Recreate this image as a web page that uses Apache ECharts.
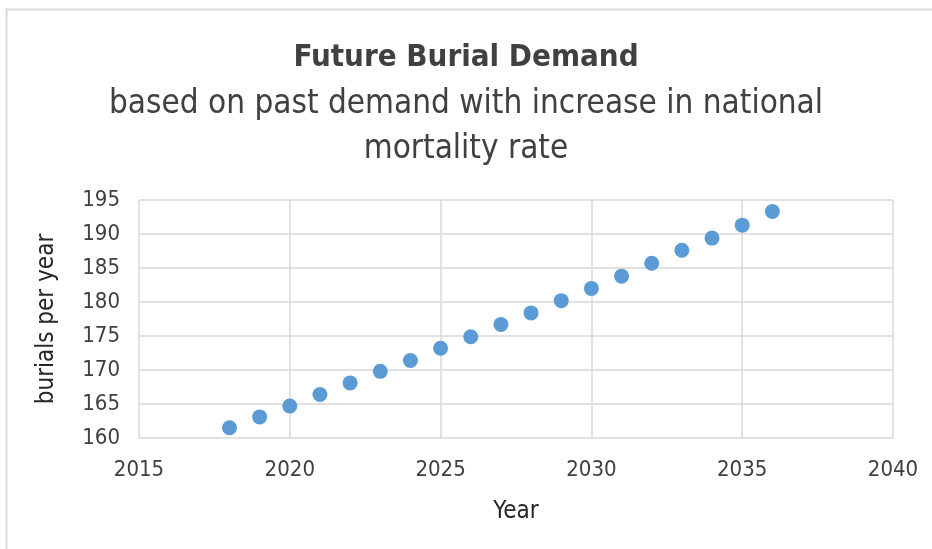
<!DOCTYPE html>
<html><head><meta charset="utf-8">
<script src="https://cdn.jsdelivr.net/npm/echarts@6/dist/echarts.min.js"></script>
<style>html,body{margin:0;padding:0;background:#fff}#c{width:932px;height:549px}</style>
</head><body><div id="c"></div>
<script>
const years = [2018,2019,2020,2021,2022,2023,2024,2025,2026,2027,2028,2029,2030,2031,2032,2033,2034,2035,2036];
const burials = [161.5,163.1,164.7,166.4,168.1,169.8,171.4,173.2,174.9,176.7,178.4,180.2,182.0,183.8,185.7,187.6,189.4,191.3,193.3];
const titleText = 'Future Burial Demand';
const subtitleText = 'based on past demand with increase in national\nmortality rate';
const xName = 'Year';
const yName = 'burials per year';
const FONT = '"Liberation Sans Narrow","DejaVu Sans Condensed","Open Sans",sans-serif';
const chart = echarts.init(document.getElementById('c'));
chart.setOption({
  animation:false,
  backgroundColor:'#fff',
  graphic:[{type:'rect',shape:{x:6.5,y:9.5,width:940,height:560},style:{fill:'none',stroke:'#d9d9d9',lineWidth:2},silent:true}],
  title:[
    {text:titleText,left:'center',top:37,textStyle:{fontFamily:FONT,fontSize:31,fontWeight:'bold',color:'#404040'}},
    {text:subtitleText,left:'center',top:77,textStyle:{fontFamily:FONT,fontSize:33,fontWeight:'normal',color:'#404040',lineHeight:45,align:'center'}}
  ],
  grid:{left:139,right:39,top:200,bottom:111,containLabel:false},
  xAxis:{type:'value',min:2015,max:2040,interval:5,name:xName,nameLocation:'middle',nameGap:62,
    nameTextStyle:{fontFamily:FONT,fontSize:24,color:'#262626'},
    axisLine:{show:false},axisTick:{show:false},
    axisLabel:{fontFamily:FONT,fontSize:22,color:'#404040',margin:21,formatter:v=>String(v)},
    splitLine:{show:true,lineStyle:{color:'#d9d9d9',width:1.5}}},
  yAxis:{type:'value',min:160,max:195,interval:5,name:yName,nameLocation:'middle',nameGap:80,
    nameTextStyle:{fontFamily:FONT,fontSize:24,color:'#262626'},
    axisLine:{show:false},axisTick:{show:false},
    axisLabel:{fontFamily:FONT,fontSize:22,color:'#404040',margin:19},
    splitLine:{show:true,lineStyle:{color:'#d9d9d9',width:1.5}}},
  series:[{type:'scatter',data:years.map((y,i)=>[y,burials[i]]),symbolSize:15,itemStyle:{color:'#5b9bd5',opacity:1}}]
});
</script></body></html>
